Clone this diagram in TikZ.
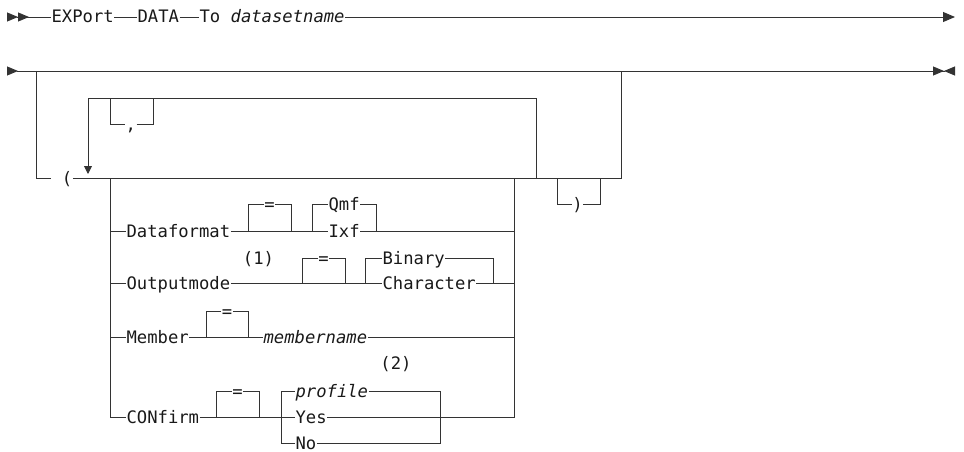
\documentclass[tikz,border=0pt]{standalone}
\usepackage{fontspec}
\setmonofont{DejaVu Sans Mono}
\usetikzlibrary{arrows.meta}
\tikzset{
  rail/.style={draw=black!80, line width=0.9pt},
  kw/.style={inner sep=0pt, inner xsep=0.4pt, text height=12pt, text depth=0pt, anchor=west, text=black!90,
    font=\ttfamily\fontsize{17.2}{20}\selectfont},
  var/.style={kw, font=\ttfamily\itshape\fontsize{17.2}{20}\selectfont},
  fnote/.style={kw, anchor=center},
  tipin/.style={Triangle[reversed,length=11pt,width=9pt]},
}
\begin{document}
\begin{tikzpicture}[x=1pt,y=-1pt]
  \useasboundingbox (0,0) rectangle (964,452);
  % first line
  \coordinate (r1s) at (7,17);
  \coordinate (r1e) at (955,17);
  \node[kw] (export) at (51,17) {EXPort};
  \node[kw] (data) at (137,17) {DATA};
  \node[kw] (to) at (199,17) {To {\itshape datasetname}};
  \draw[rail, {Triangle[reversed,length=11pt,width=9pt]Triangle[reversed,length=11pt,width=9pt]}-] (r1s) -- (export.west);
  \draw[rail] (export.east) -- (data.west);
  \draw[rail] (data.east) -- (to.west);
  \draw[rail, -{Triangle[length=12pt,width=10pt]}] (to.east) -- (r1e);
  % second line
  \coordinate (r2s) at (7,71);
  \coordinate (r2e) at (955,71);
  \coordinate (gl) at (36,71);
  \coordinate (gr) at (621,71);
  \coordinate (gbr) at (621,178);
  \draw[rail, {Triangle[reversed,length=11pt,width=9pt]}-{Triangle[length=11pt,width=9pt]Triangle[reversed,length=11pt,width=9pt]}] (r2s) -- (r2e);
  \node[kw] (lpar) at (51,178) {\ (};
  \draw[rail] (gl) |- (lpar.west);
  \draw[rail] (lpar.east) -- (gbr) -- (gr);
  % repeat
  \coordinate (rpr) at (536,178);
  \coordinate (rptop) at (536,98);
  \coordinate (rpl) at (88,174);
  \draw[rail, -{Triangle[length=8pt,width=8pt]}] (rpr) -- (rptop) -| (rpl);
  \coordinate (cma) at (110,98);
  \coordinate (cmb) at (153,98);
  \node[kw] (comma) at (125,124) {,};
  \draw[rail] (cma) |- (comma.west);
  \draw[rail] (comma.east) -| (cmb);
  % closing paren
  \coordinate (rpa) at (557,178);
  \coordinate (rpb) at (600,178);
  \node[kw, anchor=center] (rpar) at (577.5,204) {)};
  \draw[rail] (rpa) |- (rpar.west);
  \draw[rail] (rpar.east) -| (rpb);
  % options
  \coordinate (obl) at (110,178);
  \coordinate (obr) at (514,178);
  \node[kw] (dataformat) at (126,231) {Dataformat};
  \node[kw] (outputmode) at (126,283) {Outputmode};
  \node[kw] (member) at (126,337) {Member};
  \node[kw] (confirm) at (126,417) {CONfirm};
  \draw[rail] (obl) |- (dataformat.west);
  \draw[rail] (obl) |- (outputmode.west);
  \draw[rail] (obl) |- (member.west);
  \draw[rail] (obl) |- (confirm.west);
  % Dataformat
  \coordinate (dfa) at (248,231);
  \coordinate (dfb) at (291,231);
  \coordinate (dfc) at (312,231);
  \coordinate (dfd) at (376,231);
  \node[kw, anchor=center] (dfeq) at (269.5,204) {=};
  \node[kw] (qmf) at (328,204) {Qmf};
  \node[kw] (ixf) at (328,231) {Ixf};
  \draw[rail] (dataformat.east) -- (ixf.west);
  \draw[rail] (dfa) |- (dfeq.west);
  \draw[rail] (dfeq.east) -| (dfb);
  \draw[rail] (dfc) |- (qmf.west);
  \draw[rail] (qmf.east) -| (dfd);
  \draw[rail] (ixf.east) -| (obr);
  % Outputmode
  \coordinate (oma) at (302,283);
  \coordinate (omb) at (345,283);
  \coordinate (omc) at (365,283);
  \coordinate (omd) at (493,283);
  \node[fnote] (fn1) at (258.5,258) {(1)};
  \node[kw, anchor=center] (omeq) at (323.5,258) {=};
  \node[kw] (binary) at (382,258) {Binary};
  \node[kw] (character) at (382,283) {Character};
  \draw[rail] (outputmode.east) -- (character.west);
  \draw[rail] (oma) |- (omeq.west);
  \draw[rail] (omeq.east) -| (omb);
  \draw[rail] (omc) |- (binary.west);
  \draw[rail] (binary.east) -| (omd);
  \draw[rail] (character.east) -| (obr);
  % Member
  \coordinate (mba) at (206,337);
  \coordinate (mbb) at (248,337);
  \node[kw, anchor=center] (mbeq) at (227,311) {=};
  \node[var] (membername) at (263,337) {membername};
  \draw[rail] (member.east) -- (membername.west);
  \draw[rail] (mba) |- (mbeq.west);
  \draw[rail] (mbeq.east) -| (mbb);
  \draw[rail] (membername.east) -| (obr);
  % CONfirm
  \coordinate (cfa) at (216,417);
  \coordinate (cfb) at (259,417);
  \coordinate (cfc) at (281,417);
  \coordinate (cfd) at (440,417);
  \node[kw, anchor=center] (cfeq) at (237.5,391) {=};
  \node[fnote] (fn2) at (396,363) {(2)};
  \node[var] (profile) at (295,391) {profile};
  \node[kw] (yes) at (295,417) {Yes};
  \node[kw] (no) at (295,443) {No};
  \draw[rail] (confirm.east) -- (yes.west);
  \draw[rail] (cfa) |- (cfeq.west);
  \draw[rail] (cfeq.east) -| (cfb);
  \draw[rail] (cfc) |- (profile.west);
  \draw[rail] (cfc) |- (no.west);
  \draw[rail] (profile.east) -| (cfd);
  \draw[rail] (no.east) -| (cfd);
  \draw[rail] (yes.east) -| (obr);
\end{tikzpicture}
\end{document}
